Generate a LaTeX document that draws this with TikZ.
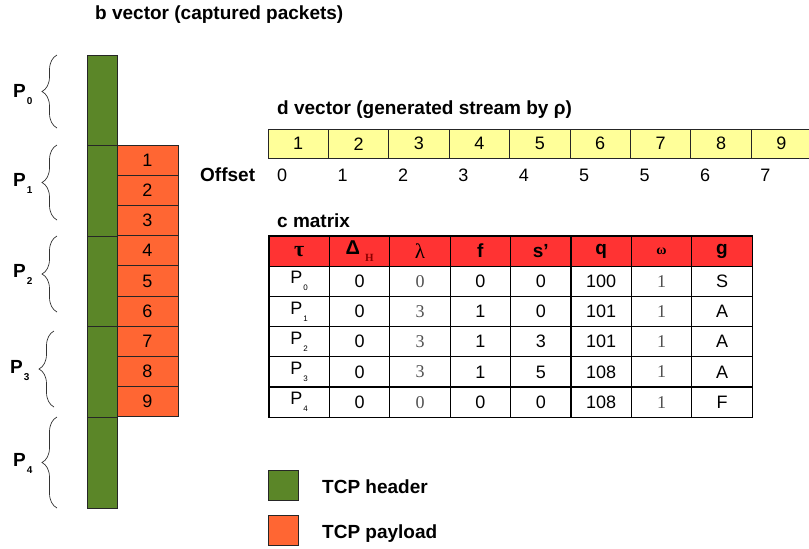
\documentclass[tikz,border=0pt]{standalone}
\usepackage{fontspec}
\setmainfont{Liberation Sans}
\newfontfamily\symfont{Liberation Serif}
\usetikzlibrary{positioning,decorations.pathreplacing}

\definecolor{hdrgreen}{HTML}{5B8628}
\definecolor{payorange}{HTML}{FF6633}
\definecolor{dyellow}{HTML}{FFFF99}
\definecolor{hdrred}{HTML}{FF3333}
\definecolor{darkred}{HTML}{8B0000}
\definecolor{softgray}{HTML}{505050}

% packet name with a low index
\newcommand{\pk}[1]{P\kern1pt\raisebox{-7pt}{\fontsize{8}{8}\selectfont #1}}
\newcommand{\bpk}[1]{P\kern1pt\raisebox{-7pt}{\fontsize{10}{10}\selectfont\bfseries #1}}

\tikzset{
  title/.style={anchor=base west, inner sep=0pt, font=\fontsize{19}{19}\selectfont\bfseries},
  hdrbox/.style={draw=black!85, fill=hdrgreen, line width=0.8pt, minimum width=30pt,
    minimum height=90.6pt, inner sep=0pt, outer sep=0pt, anchor=north},
  paybox/.style={draw=black!85, fill=payorange, line width=0.8pt, minimum width=61pt,
    minimum height=30.2pt, inner sep=0pt, outer sep=0pt, anchor=north west,
    font=\fontsize{18}{18}\selectfont},
  dcell/.style={draw=black!85, fill=dyellow, line width=0.8pt, minimum width=60.4pt,
    minimum height=29.5pt, inner sep=0pt, outer sep=0pt, anchor=north west,
    font=\fontsize{18}{18}\selectfont},
  offs/.style={anchor=base west, inner sep=0pt, font=\fontsize{18}{18}\selectfont},
  mcell/.style={draw=black, line width=1.2pt, minimum width=60.4pt, minimum height=30.2pt,
    inner sep=0pt, outer sep=0pt, anchor=north west, font=\fontsize{18}{18}\selectfont},
  mhead/.style={mcell, fill=hdrred, font=\fontsize{19}{19}\selectfont\bfseries},
  soft/.style={font=\fontsize{18}{18}\selectfont\symfont, text=softgray},
  plabel/.style={anchor=base west, inner sep=0pt, font=\fontsize{19}{19}\selectfont\bfseries},
  pbrace/.style={draw=black!80, line width=0.7pt, decorate, decoration={brace, amplitude=15pt}},
  legbox/.style={draw=black!85, line width=0.8pt, minimum size=30pt, inner sep=0pt,
    outer sep=0pt, anchor=north west},
  legtext/.style={inner sep=0pt, text height=13.6pt, text depth=0pt, yshift=-1.5pt,
    font=\fontsize{19}{19}\selectfont\bfseries}
}

\begin{document}
\begin{tikzpicture}[x=1pt,y=-1pt]
  \useasboundingbox (0,0) rectangle (809,549);

  % titles
  \node[title] (btitle) at (95,19.5) {b vector (captured packets)};
  \node[title] (dtitle) at (277,114) {d vector (generated stream by ρ)};
  \node[title] (ctitle) at (277,227) {c matrix};
  \node[title] (offlabel) at (200,181.5) {Offset};

  % b vector: headers and payloads
  \foreach \i in {0,...,4}
    \node[hdrbox] (h\i) at (102,55+90.6*\i) {};
  \foreach \i in {1,...,9}
    \node[paybox] (p\i) at (117,145+30.2*\i-30.2) {\i};

  % braces
  \draw[pbrace] (57,128) -- (57,55);
  \draw[pbrace] (57,220) -- (57,145);
  \draw[pbrace] (57,312) -- (57,236);
  \draw[pbrace] (54,407) -- (54,331);
  \draw[pbrace] (57,508) -- (57,417);
  \node[plabel] (l0) at (13,97) {\bpk{0}};
  \node[plabel] (l1) at (13,186) {\bpk{1}};
  \node[plabel] (l2) at (13,277) {\bpk{2}};
  \node[plabel] (l3) at (10,373) {\bpk{3}};
  \node[plabel] (l4) at (13,466) {\bpk{4}};

  % d vector with offsets
  \foreach \i/\o in {1/0,2/1,3/2,4/3,5/4,6/5,7/5,8/6,9/7} {
    \node[dcell] (d\i) at (268+60.4*\i-60.4,129) {\i};
    \node[offs] (o\i) at (277+60.4*\i-60.4,181.5) {\o};
  }

  % c matrix
  \foreach \t [count=\j from 0] in {{\fontsize{22}{22}\selectfont\symfont\bfseries τ},
      {\fontsize{20}{20}\selectfont Δ\kern5pt\raisebox{-7pt}{\fontsize{11}{11}\selectfont\symfont\bfseries\color{darkred}H}},
      {\fontsize{21}{21}\selectfont\symfont\mdseries λ}, f, s', q,
      {\fontsize{14}{14}\selectfont\symfont\bfseries ω}, g}
    \node[mhead] (m-\j) at (269+60.4*\j,236) {\t};
  \foreach \r/\a/\b/\c/\d/\e/\f/\g in {0/0/0/0/0/100/1/S, 1/0/3/1/0/101/1/A,
      2/0/3/1/3/101/1/A, 3/0/3/1/5/108/1/A, 4/0/0/0/0/108/1/F} {
    \node[mcell] (m\r-0) at (269,266.2+30.2*\r) {\pk{\r}};
    \node[mcell] (m\r-1) at (329.4,266.2+30.2*\r) {\a};
    \node[mcell, soft] (m\r-2) at (389.8,266.2+30.2*\r) {\b};
    \node[mcell] (m\r-3) at (450.2,266.2+30.2*\r) {\c};
    \node[mcell] (m\r-4) at (510.6,266.2+30.2*\r) {\d};
    \node[mcell] (m\r-5) at (571,266.2+30.2*\r) {\e};
    \node[mcell, soft] (m\r-6) at (631.4,266.2+30.2*\r) {\f};
    \node[mcell] (m\r-7) at (691.8,266.2+30.2*\r) {\g};
  }

  % legend
  \node[legbox, fill=hdrgreen] (lg) at (268,470) {};
  \node[legbox, fill=payorange] (lo) at (268,515) {};
  \node[legtext, right=24pt of lg] (lgt) {TCP header};
  \node[legtext, right=24pt of lo] (lot) {TCP payload};

\end{tikzpicture}
\end{document}
